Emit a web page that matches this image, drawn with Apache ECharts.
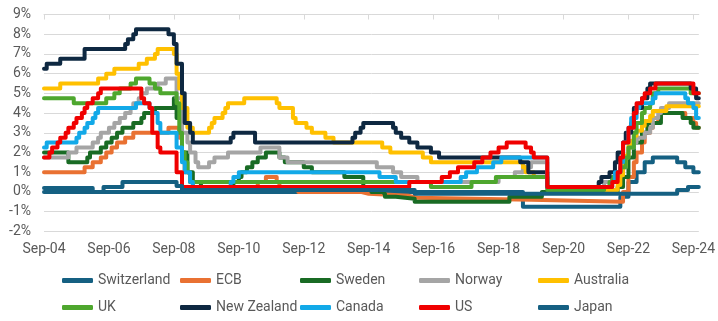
<!DOCTYPE html>
<html>
<head>
<meta charset="utf-8">
<script src="https://cdn.jsdelivr.net/npm/echarts@6/dist/echarts.min.js"></script>
<style>
  html, body { margin: 0; padding: 0; background: #ffffff; }
  #chart { width: 718px; height: 321px; }
</style>
</head>
<body>
<div id="chart"></div>
<script>
// Central bank policy rates (%), Sep 2004 - Nov 2024.
// Each entry is [month the rate took effect, rate]; the last entry closes the series.
const switzerland = [['2004-09',0],['2019-06',-0.75],['2022-06',-0.25],['2022-09',0.5],['2022-12',1.0],['2023-03',1.5],['2023-06',1.75],['2024-03',1.5],['2024-06',1.25],['2024-09',1.0],['2024-11',1.0]];

const ecb = [['2004-09',1.0],['2005-12',1.25],['2006-03',1.5],['2006-06',1.75],['2006-08',2.0],['2006-10',2.25],['2006-12',2.5],['2007-03',2.75],['2007-06',3.0],['2008-07',3.25],['2008-11',2.75],['2008-12',2.0],['2009-01',1.0],['2009-03',0.5],['2009-04',0.25],['2011-04',0.5],['2011-07',0.75],['2011-11',0.5],['2011-12',0.25],['2012-07',0],['2014-06',-0.1],['2014-09',-0.2],['2015-12',-0.3],['2016-03',-0.4],['2019-09',-0.5],['2022-07',0],['2022-09',0.75],['2022-11',1.5],['2022-12',2.0],['2023-02',2.5],['2023-03',3.0],['2023-05',3.25],['2023-06',3.5],['2023-08',3.75],['2023-09',4.0],['2024-06',3.75],['2024-09',3.5],['2024-10',3.25],['2024-11',3.25]];

const sweden = [['2004-09',2.0],['2005-06',1.5],['2006-01',1.75],['2006-02',2.0],['2006-06',2.25],['2006-08',2.5],['2006-10',2.75],['2006-12',3.0],['2007-02',3.25],['2007-06',3.5],['2007-09',3.75],['2007-10',4.0],['2008-02',4.25],['2008-09',4.75],['2008-10',3.75],['2008-12',2.0],['2009-02',1.0],['2009-04',0.5],['2009-07',0.25],['2010-07',0.5],['2010-09',0.75],['2010-10',1.0],['2010-12',1.25],['2011-02',1.5],['2011-04',1.75],['2011-07',2.0],['2011-12',1.75],['2012-02',1.5],['2012-09',1.25],['2012-12',1.0],['2013-12',0.75],['2014-07',0.25],['2014-10',0],['2015-02',-0.1],['2015-03',-0.25],['2015-07',-0.35],['2016-02',-0.5],['2019-01',-0.25],['2020-01',0],['2022-05',0.25],['2022-07',0.75],['2022-09',1.75],['2022-11',2.5],['2023-02',3.0],['2023-04',3.5],['2023-09',4.0],['2024-05',3.75],['2024-08',3.5],['2024-09',3.25],['2024-11',3.25]];

const norway = [['2004-09',1.75],['2005-06',2.0],['2005-09',2.25],['2006-03',2.5],['2006-05',2.75],['2006-06',3.0],['2006-09',3.25],['2006-11',3.5],['2007-01',3.75],['2007-03',4.0],['2007-05',4.25],['2007-06',4.5],['2007-08',4.75],['2007-09',5.0],['2007-11',5.25],['2008-03',5.5],['2008-06',5.75],['2008-10',4.75],['2008-12',3.0],['2009-02',2.5],['2009-03',2.0],['2009-05',1.5],['2009-06',1.25],['2009-10',1.5],['2009-12',1.75],['2010-05',2.0],['2011-05',2.25],['2011-12',1.75],['2012-03',1.5],['2014-12',1.25],['2015-06',1.0],['2015-09',0.75],['2016-03',0.5],['2018-09',0.75],['2019-03',1.0],['2019-06',1.25],['2019-09',1.5],['2020-03',0.25],['2020-05',0],['2021-09',0.25],['2021-12',0.5],['2022-03',0.75],['2022-06',1.25],['2022-08',1.75],['2022-09',2.25],['2022-11',2.5],['2022-12',2.75],['2023-03',3.0],['2023-05',3.25],['2023-06',3.75],['2023-08',4.0],['2023-09',4.25],['2023-12',4.5],['2024-11',4.5]];

const australia = [['2004-09',5.25],['2005-03',5.5],['2006-05',5.75],['2006-08',6.0],['2006-11',6.25],['2007-08',6.5],['2007-11',6.75],['2008-02',7.0],['2008-03',7.25],['2008-09',7.0],['2008-10',6.0],['2008-11',5.25],['2008-12',4.25],['2009-02',3.25],['2009-04',3.0],['2009-10',3.25],['2009-11',3.5],['2009-12',3.75],['2010-03',4.0],['2010-04',4.25],['2010-05',4.5],['2010-11',4.75],['2011-11',4.5],['2011-12',4.25],['2012-05',3.75],['2012-06',3.5],['2012-10',3.25],['2012-12',3.0],['2013-05',2.75],['2013-08',2.5],['2015-02',2.25],['2015-05',2.0],['2016-05',1.75],['2016-08',1.5],['2019-06',1.25],['2019-07',1.0],['2019-10',0.75],['2020-03',0.25],['2020-11',0.1],['2022-05',0.35],['2022-06',0.85],['2022-07',1.35],['2022-08',1.85],['2022-09',2.35],['2022-10',2.6],['2022-11',2.85],['2022-12',3.1],['2023-02',3.35],['2023-03',3.6],['2023-05',3.85],['2023-06',4.1],['2023-11',4.35],['2024-11',4.35]];

const uk = [['2004-09',4.75],['2005-08',4.5],['2006-08',4.75],['2006-11',5.0],['2007-01',5.25],['2007-05',5.5],['2007-07',5.75],['2007-12',5.5],['2008-02',5.25],['2008-04',5.0],['2008-10',4.5],['2008-11',3.0],['2008-12',2.0],['2009-01',1.5],['2009-02',1.0],['2009-03',0.5],['2016-08',0.25],['2017-11',0.5],['2018-08',0.75],['2020-03',0.1],['2021-12',0.25],['2022-02',0.5],['2022-03',0.75],['2022-05',1.0],['2022-06',1.25],['2022-08',1.75],['2022-09',2.25],['2022-11',3.0],['2022-12',3.5],['2023-02',4.0],['2023-03',4.25],['2023-05',4.5],['2023-06',5.0],['2023-08',5.25],['2024-08',5.0],['2024-11',5.0]];

const newZealand = [['2004-09',6.25],['2004-10',6.5],['2005-03',6.75],['2005-12',7.25],['2007-03',7.5],['2007-04',7.75],['2007-06',8.0],['2007-07',8.25],['2008-07',8.0],['2008-09',7.5],['2008-10',6.5],['2008-12',5.0],['2009-01',3.5],['2009-03',3.0],['2009-04',2.5],['2010-06',2.75],['2010-07',3.0],['2011-03',2.5],['2014-03',2.75],['2014-04',3.0],['2014-06',3.25],['2014-07',3.5],['2015-06',3.25],['2015-07',3.0],['2015-09',2.75],['2015-12',2.5],['2016-03',2.25],['2016-08',2.0],['2016-11',1.75],['2019-05',1.5],['2019-08',1.0],['2020-03',0.25],['2021-10',0.5],['2021-11',0.75],['2022-02',1.0],['2022-04',1.5],['2022-05',2.0],['2022-07',2.5],['2022-08',3.0],['2022-10',3.5],['2022-11',4.25],['2023-02',4.75],['2023-04',5.25],['2023-05',5.5],['2024-08',5.25],['2024-10',4.75],['2024-11',4.75]];

const canada = [['2004-09',2.25],['2004-10',2.5],['2005-09',2.75],['2005-10',3.0],['2005-12',3.25],['2006-01',3.5],['2006-03',3.75],['2006-04',4.0],['2006-05',4.25],['2007-07',4.5],['2007-12',4.25],['2008-01',4.0],['2008-03',3.5],['2008-04',3.0],['2008-10',2.25],['2008-12',1.5],['2009-01',1.0],['2009-03',0.5],['2009-04',0.25],['2010-06',0.5],['2010-07',0.75],['2010-09',1.0],['2015-01',0.75],['2015-07',0.5],['2017-07',0.75],['2017-09',1.0],['2018-01',1.25],['2018-07',1.5],['2018-10',1.75],['2020-03',0.25],['2022-03',0.5],['2022-04',1.0],['2022-06',1.5],['2022-07',2.5],['2022-09',3.25],['2022-10',3.75],['2022-12',4.25],['2023-01',4.5],['2023-06',4.75],['2023-07',5.0],['2024-06',4.75],['2024-07',4.5],['2024-09',4.25],['2024-10',3.75],['2024-11',3.75]];

const us = [['2004-09',1.75],['2004-11',2.0],['2004-12',2.25],['2005-02',2.5],['2005-03',2.75],['2005-05',3.0],['2005-06',3.25],['2005-08',3.5],['2005-09',3.75],['2005-11',4.0],['2005-12',4.25],['2006-01',4.5],['2006-03',4.75],['2006-05',5.0],['2006-06',5.25],['2007-09',4.75],['2007-10',4.5],['2007-12',4.25],['2008-01',3.0],['2008-03',2.25],['2008-04',2.0],['2008-10',1.0],['2008-12',0.25],['2015-12',0.5],['2016-12',0.75],['2017-03',1.0],['2017-06',1.25],['2017-12',1.5],['2018-03',1.75],['2018-06',2.0],['2018-09',2.25],['2018-12',2.5],['2019-07',2.25],['2019-09',2.0],['2019-10',1.75],['2020-03',0.25],['2022-03',0.5],['2022-05',1.0],['2022-06',1.75],['2022-07',2.5],['2022-09',3.25],['2022-11',4.0],['2022-12',4.5],['2023-02',4.75],['2023-03',5.0],['2023-05',5.25],['2023-07',5.5],['2024-09',5.0],['2024-11',5.0]];

const japan = [['2004-09',0.2],['2006-03',0],['2006-07',0.25],['2007-02',0.5],['2008-10',0.3],['2008-12',0.1],['2016-02',-0.1],['2024-03',0.1],['2024-07',0.25],['2024-11',0.25]];

const seriesNames = ['Switzerland','ECB','Sweden','Norway','Australia','UK','New Zealand','Canada','US','Japan'];
const seriesData = [switzerland, ecb, sweden, norway, australia, uk, newZealand, canada, us, japan];
const seriesColors = ['#156082','#E97132','#196B24','#A5A5A5','#FFC000','#4EA72E','#0E2841','#12A9E8','#F00000','#156082'];

const tickLabels = ['Sep-04','Sep-06','Sep-08','Sep-10','Sep-12','Sep-14','Sep-16','Sep-18','Sep-20','Sep-22','Sep-24'];
const yTicks = [-2,-1,0,1,2,3,4,5,6,7,8,9];

// months elapsed since Sep 2004
function monthIndex(s) {
  const [y, m] = s.split('-').map(Number);
  return (y - 2004) * 12 + (m - 9);
}
const lastMonth = monthIndex('2024-11');
const tickMonths = tickLabels.map((_, i) => i * 24);

const font = 'Roboto, "Noto Sans", sans-serif';
const textColor = '#595959';
const gridColor = '#D9D9D9';

const series = seriesNames.map((name, i) => ({
  name,
  type: 'line',
  step: 'end',
  symbol: 'none',
  data: seriesData[i].map(([d, v]) => [monthIndex(d), v]),
  lineStyle: { color: seriesColors[i], width: 4, cap: 'round', join: 'round' },
  itemStyle: { color: seriesColors[i] },
  z: 2 + i
}));

// legend: two rows of five fixed-width columns
const legendCols = [62, 180, 300, 419, 538];
const legendRows = [272, 299];
const legends = seriesNames.map((name, i) => ({
  data: [name],
  left: legendCols[i % 5],
  top: legendRows[Math.floor(i / 5)],
  padding: 0,
  icon: 'roundRect',
  itemWidth: 31,
  itemHeight: 5,
  selectedMode: false,
  textStyle: { color: textColor, fontSize: 14, fontFamily: font, lineHeight: 17 }
}));

const chart = echarts.init(document.getElementById('chart'), null, { renderer: 'canvas' });
chart.setOption({
  animation: false,
  backgroundColor: '#ffffff',
  grid: { left: 44, right: 19, top: 14.5, bottom: 89.7, containLabel: false },
  legend: legends,
  xAxis: [{
    type: 'value',
    min: 0,
    max: lastMonth,
    position: 'bottom',
    axisLine: { show: false },
    axisTick: { show: false },
    splitLine: { show: false },
    axisLabel: {
      customValues: tickMonths,
      formatter: v => tickLabels[Math.round(v / 24)] || '',
      color: textColor, fontSize: 14, fontFamily: font, margin: 11
    }
  }, {
    type: 'value',
    min: 0,
    max: lastMonth,
    position: 'top',
    axisLine: { show: true, onZero: true, lineStyle: { color: gridColor, width: 1 } },
    axisTick: { show: true, inside: true, length: 5, customValues: tickMonths, lineStyle: { color: gridColor } },
    axisLabel: { show: false },
    splitLine: { show: false }
  }],
  yAxis: {
    type: 'value',
    min: yTicks[0],
    max: yTicks[yTicks.length - 1],
    interval: 1,
    axisLine: { show: false },
    axisTick: { show: false },
    splitLine: { lineStyle: { color: gridColor, width: 1 } },
    axisLabel: { formatter: '{value}%', color: textColor, fontSize: 14, fontFamily: font, margin: 13 }
  },
  series
});
</script>
</body>
</html>
